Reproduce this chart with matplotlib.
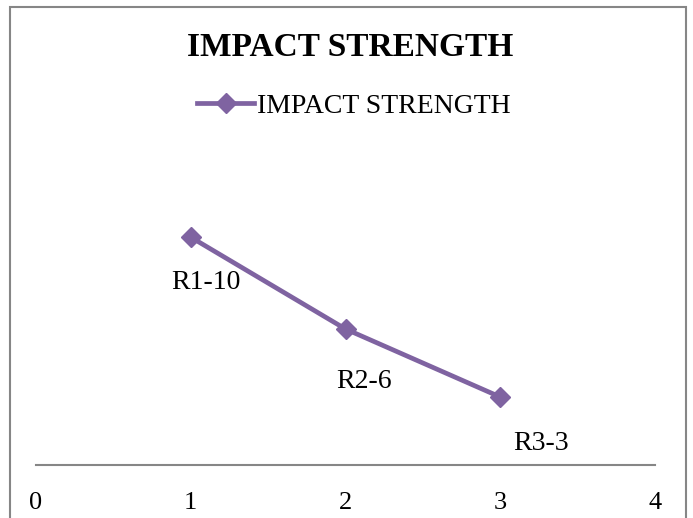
import matplotlib
matplotlib.use("Agg")
import matplotlib.pyplot as plt
from matplotlib.patches import Rectangle
from matplotlib.lines import Line2D

plt.rcParams['font.family'] = ['Liberation Serif', 'DejaVu Serif']

x_vals = [1, 2, 3]
y_vals = [3.35, 2.0, 1.0]
point_labels = ["R1-10", "R2-6", "R3-3"]
x_ticks = [0, 1, 2, 3, 4]
series_name = "IMPACT STRENGTH"
title = "IMPACT STRENGTH"

color = "#7F63A1"

fig = plt.figure(figsize=(6.93, 5.18), dpi=100)
fig.patches.append(Rectangle((10/693, -0.05), 676/693, 1.05 - 7/518, transform=fig.transFigure,
                             fill=False, edgecolor="#868686", linewidth=1.5))

ax = fig.add_axes([36/693, 53/518, 619/693, 340/518])
ax.plot(x_vals, y_vals, color=color, linewidth=3.4, marker="D", markersize=10,
        markeredgecolor=color, markerfacecolor=color, solid_joinstyle="round")
offsets = [(15, -45), (19, -52), (41, -47)]
for xv, yv, lab, off in zip(x_vals, y_vals, point_labels, offsets):
    ax.annotate(lab, (xv, yv), xytext=off, textcoords="offset pixels",
                ha="center", va="center", fontsize=20, color="black")

ax.set_xlim(0, 4)
ax.set_ylim(0, 5)
ax.set_xticks(x_ticks)
ax.set_xticklabels([str(t) for t in x_ticks], fontsize=19)
ax.tick_params(axis="x", length=0, pad=19.5)
ax.set_yticks([])
for s in ["top", "right", "left"]:
    ax.spines[s].set_visible(False)
ax.spines["bottom"].set_color("#868686")
ax.spines["bottom"].set_linewidth(1.5)
ax.patch.set_alpha(0)

fig.text(350/693, 1 - 47/518, title, ha="center", va="center", fontsize=24, fontweight="bold")

handle = Line2D([], [], color=color, linewidth=3.4, marker="D", markersize=10)
fig.legend([handle], [series_name], loc="center", bbox_to_anchor=(354/693, 1 - 106/518),
           frameon=False, fontsize=20, handlelength=2.05, handletextpad=0.1)

fig.savefig("out.png", dpi=100)
